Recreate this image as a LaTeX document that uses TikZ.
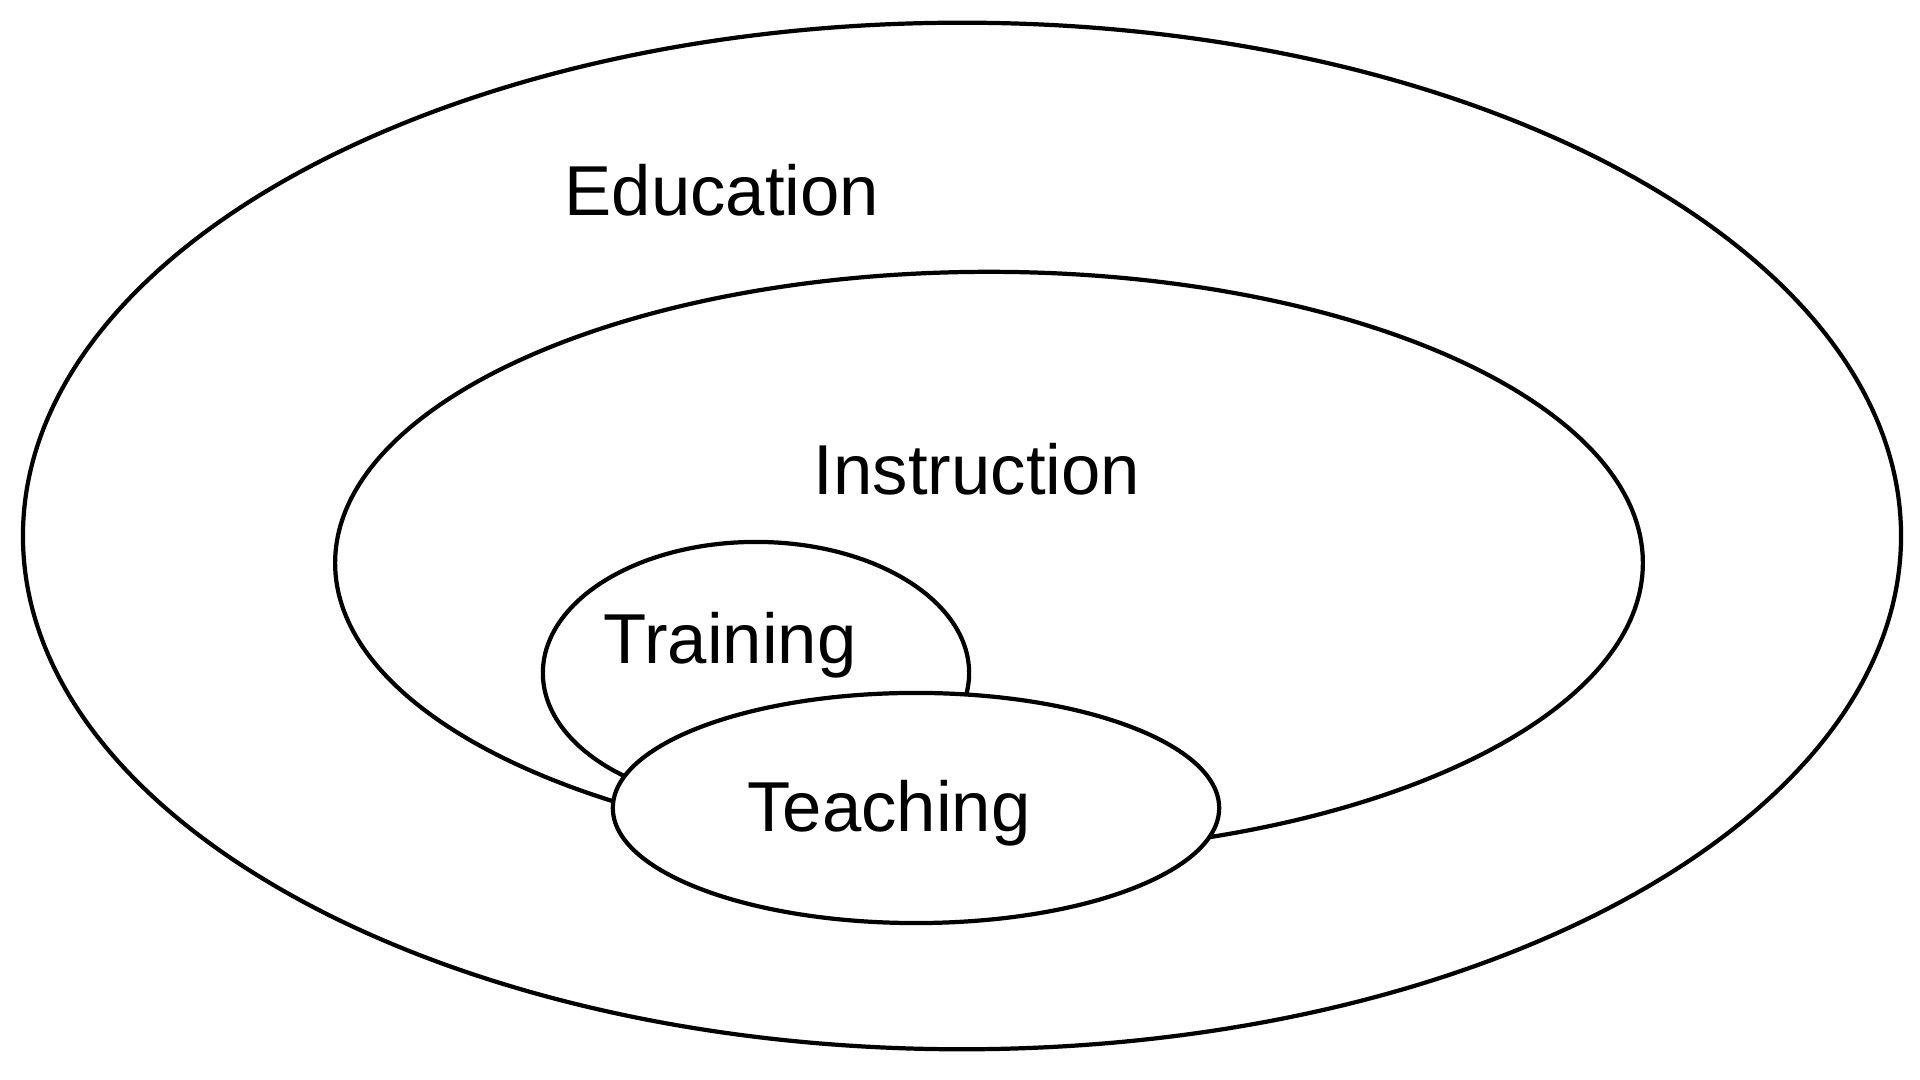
\documentclass[tikz,border=0pt]{standalone}
\usepackage{fontspec}
\setmainfont{Liberation Sans}
\usetikzlibrary{shapes.geometric}

\tikzset{
	set/.style={draw, ellipse, line width=1.2pt, inner sep=0pt},
	word/.style={font=\fontsize{20.1}{24}\selectfont, anchor=base, inner sep=0pt}
}

\begin{document}
\begin{tikzpicture}[x=0.01cm, y=-0.01cm]
			\useasboundingbox (0,0) rectangle (1920,1080);
			% sets, outermost first
			\node[set, minimum width=18.77cm, minimum height=10.26cm] (edu) at (962,536) {};
			\node[set, minimum width=13.07cm, minimum height=5.82cm] (instr) at (989,563) {};
			\node[set, minimum width=4.26cm, minimum height=2.62cm] (train) at (756,673) {};
			\node[set, fill=white, minimum width=6.06cm, minimum height=2.30cm] (teach) at (916,808) {};
			% labels
			\node[word] (edutext) at (722,216) {Education};
			\node[word] (instrtext) at (977,495) {Instruction};
			\node[word] (traintext) at (730,664) {Training};
			\node[word] (teachtext) at (889,832) {Teaching};
		\end{tikzpicture}
\end{document}
